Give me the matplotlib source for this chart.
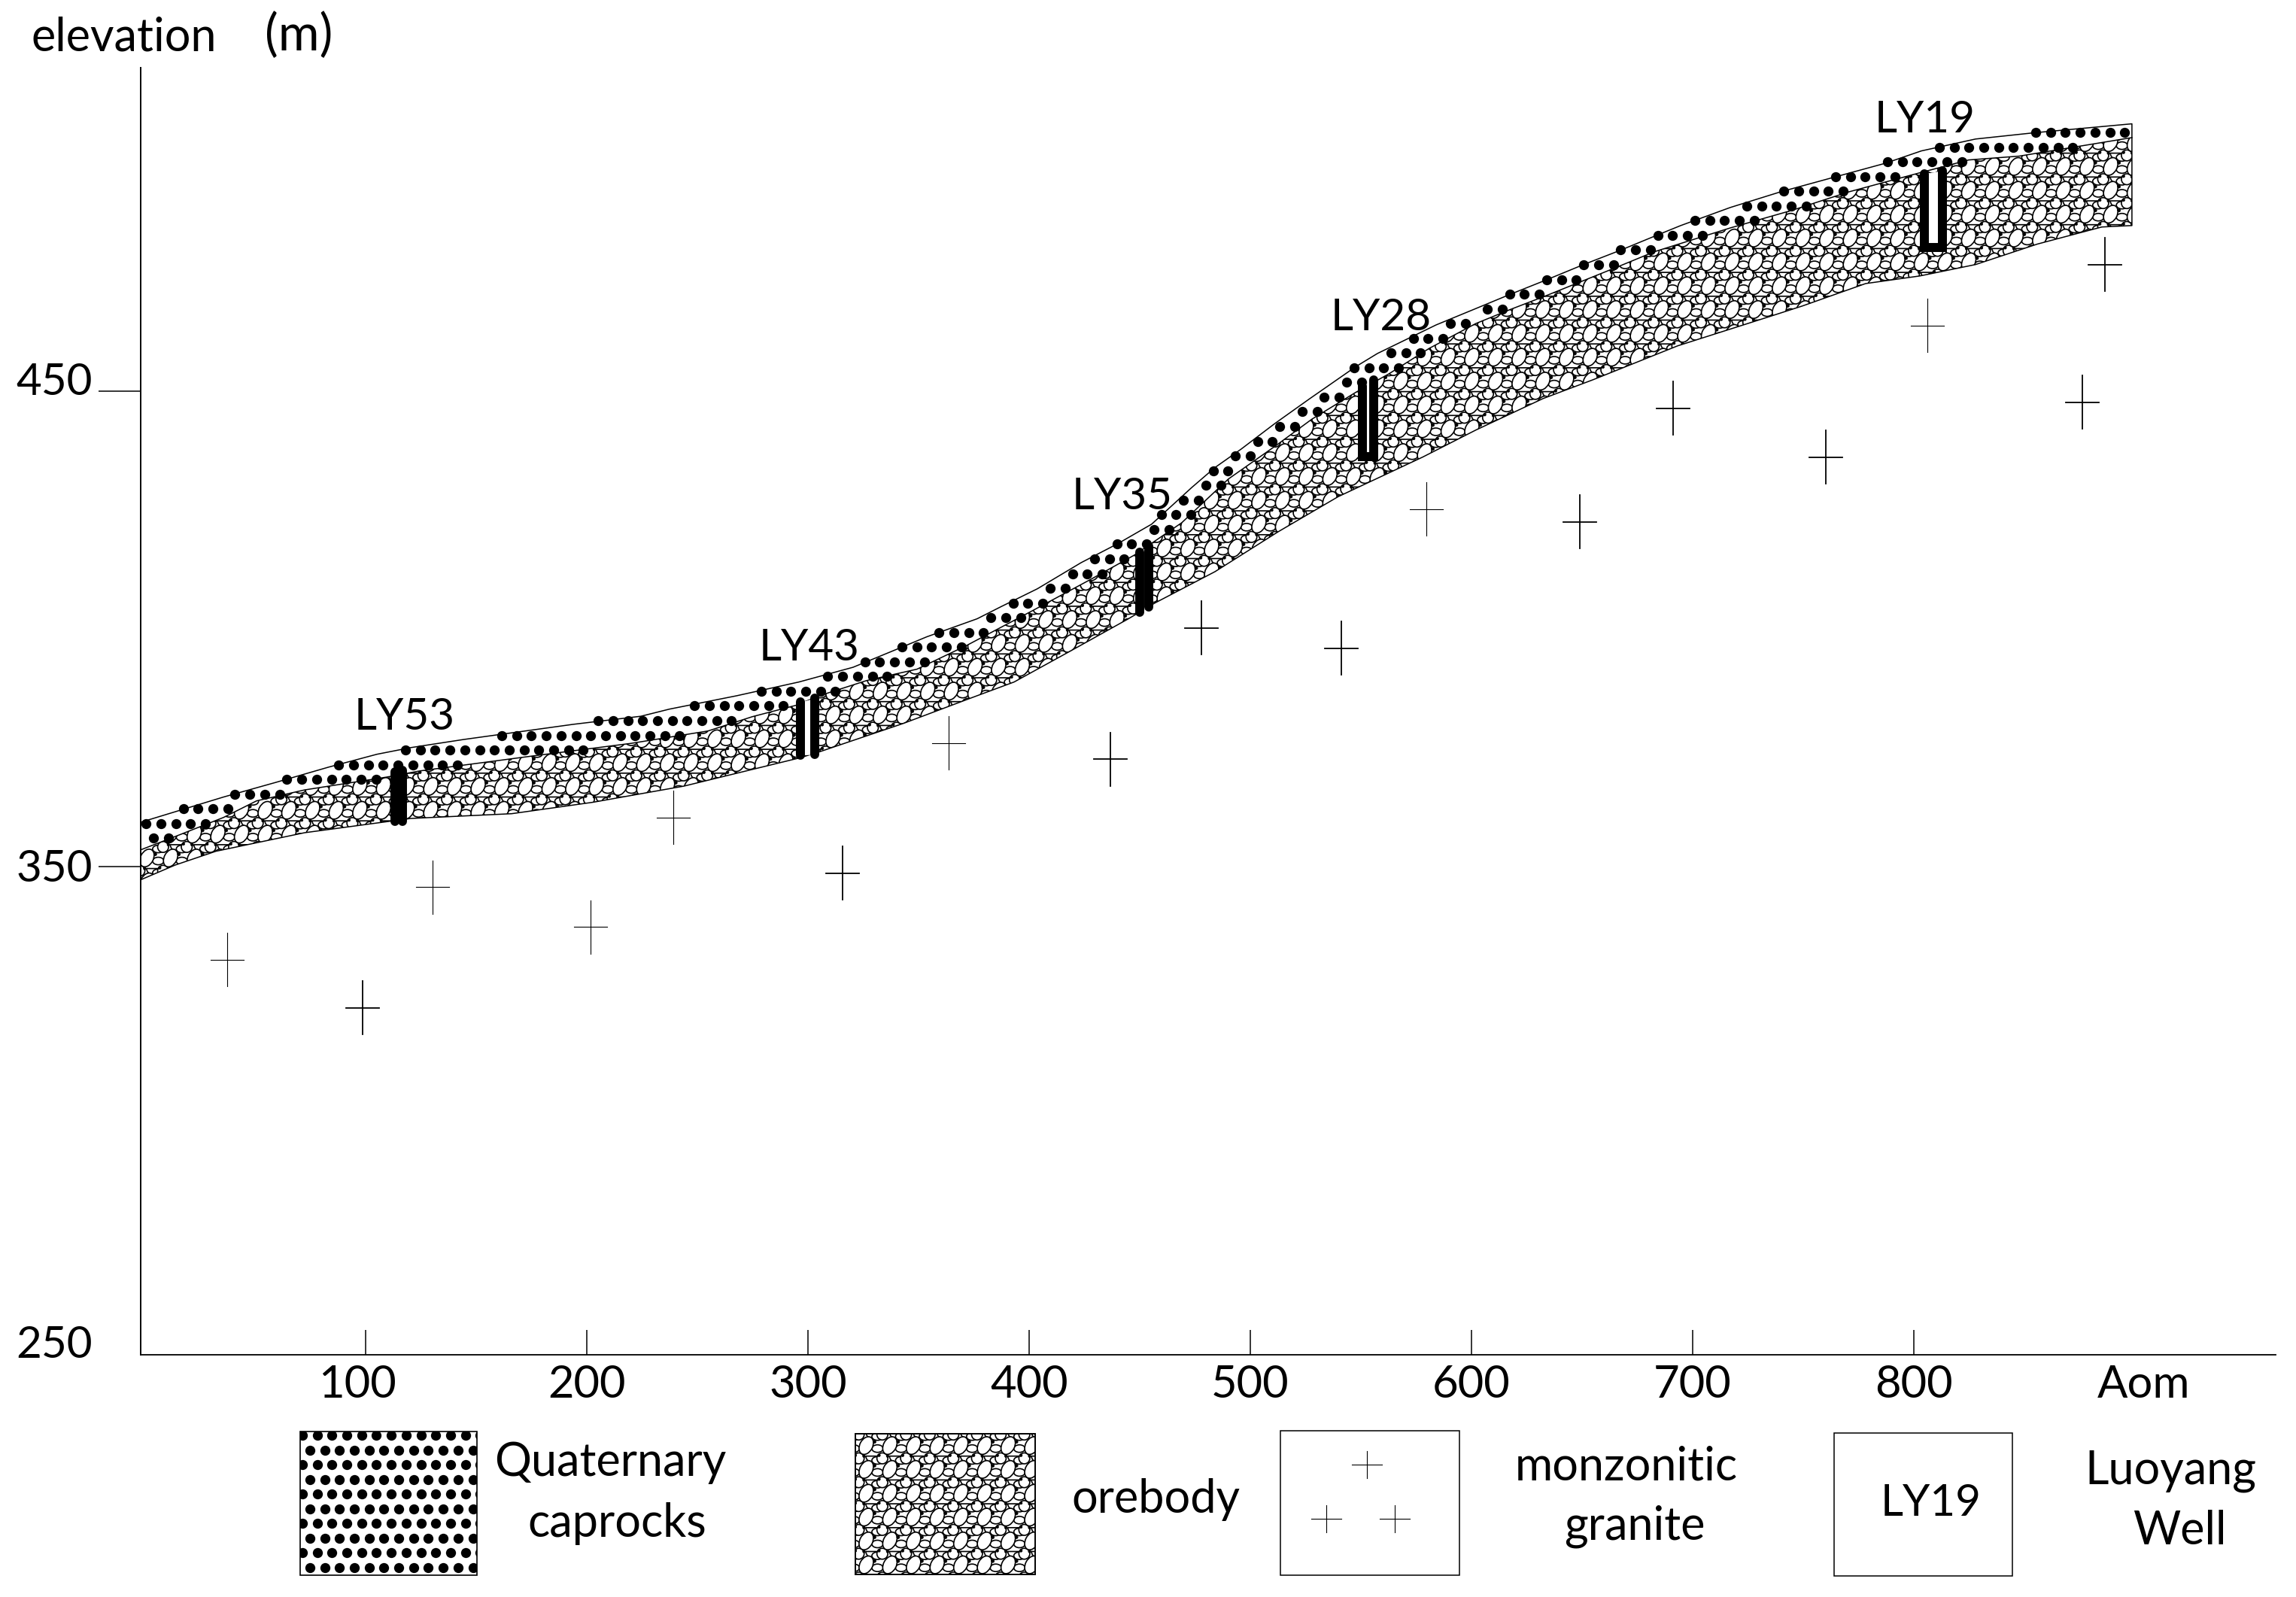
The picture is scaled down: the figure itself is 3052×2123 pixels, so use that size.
import numpy as np
import matplotlib
matplotlib.use('Agg')
import matplotlib.pyplot as plt
from matplotlib.collections import PatchCollection
from matplotlib.patches import Ellipse, Wedge, Rectangle
from matplotlib.path import Path
from matplotlib.transforms import Affine2D

plt.rcParams['font.family'] = ['Lato', 'DejaVu Sans']

# profile lines: distance (m) / elevation (m)
top_x = [-1.7, 35.7, 59.5, 83.3, 105.1, 120.4, 144.2, 193.9, 224.5, 237.4, 267.7, 295.9, 320.4, 337.1, 353.7,
         376.5, 387.1, 403.7, 423.5, 440.1, 455.4, 473.5, 484.0, 495.9, 511.2, 526.9, 547.6, 557.5, 584.0,
         600.7, 617.3, 634.0, 650.7, 667.3, 684.0, 694.6, 717.0, 739.8, 762.6, 787.1, 803.4, 827.9, 854.1, 898.6]
top_y = [359.3, 364.6, 367.7, 370.9, 373.6, 375.0, 376.7, 379.9, 381.6, 383.1, 385.9, 388.8, 391.9, 395.1, 398.3,
         402.1, 404.6, 408.4, 413.9, 417.9, 422.0, 429.7, 433.9, 437.8, 443.2, 448.4, 455.1, 457.9, 463.9,
         467.1, 470.3, 473.4, 476.6, 479.6, 482.8, 484.8, 488.6, 491.9, 494.8, 497.9, 500.5, 503.0, 504.3, 506.2]

cap_x = [-1.7, 13.9, 35.7, 50.7, 72.4, 109.5, 124.5, 176.5, 220.1, 254.8, 274.8, 294.6, 305.1, 326.5, 349.3,
         371.8, 400.7, 427.9, 447.6, 469.0, 490.1, 511.2, 527.9, 547.6, 562.6, 581.0, 602.0, 617.3, 634.0,
         666.0, 682.7, 717.0, 744.9, 770.7, 802.7, 824.8, 847.6, 898.6]
cap_y = [353.5, 356.3, 360.3, 363.8, 366.1, 368.8, 370.1, 373.3, 375.9, 378.5, 381.5, 383.9, 385.9, 389.1, 391.5,
         396.5, 403.6, 410.4, 415.5, 422.3, 431.5, 438.4, 444.1, 449.7, 453.6, 459.0, 464.2, 467.1, 470.1,
         476.1, 479.3, 484.3, 488.0, 491.9, 495.9, 498.6, 499.4, 503.3]

ore_x = [-1.7, 13.9, 32.3, 72.4, 120.4, 166.0, 202.7, 243.9, 267.7, 295.9, 305.1, 343.2, 373.5, 393.2, 419.0,
         444.9, 456.8, 484.0, 512.6, 539.8, 577.9, 602.0, 632.3, 655.1, 693.2, 733.7, 749.7, 778.2, 802.7,
         827.9, 855.8, 885.0, 898.6]
ore_y = [347.2, 350.3, 353.2, 357.1, 360.1, 361.1, 363.5, 366.9, 369.6, 372.8, 374.1, 380.1, 385.4, 388.8, 395.4,
         402.1, 405.4, 412.0, 420.4, 427.8, 436.1, 441.8, 448.4, 452.4, 459.5, 465.5, 467.9, 472.6, 474.2,
         476.6, 480.9, 484.5, 484.8]

# granite crosses
plus_x = [37.4, 98.6, 130.3, 201.7, 239.1, 315.6, 363.6, 436.7, 477.9, 541.2, 579.6, 649.0, 691.2, 760.2, 806.1, 876.2, 886.4]
plus_y = [330.4, 320.3, 345.7, 337.3, 360.3, 348.6, 376.0, 372.6, 400.2, 395.9, 425.2, 422.5, 446.4, 436.1, 463.8, 447.6, 476.6]
plus_thin = [0, 2, 3, 4, 6, 10, 14]

# wells
well_names = ['LY53', 'LY43', 'LY35', 'LY28', 'LY19']
well_label_x = [117.7, 300.7, 442.2, 559.2, 804.8]
well_label_y = [378.8, 393.4, 425.2, 462.8, 504.4]
well_left_x = [113.3, 296.6, 450.0, 550.7, 804.8]
well_right_x = [116.7, 302.9, 454.1, 555.8, 812.9]
well_left_top = [369.9, 384.6, 416.1, 451.1, 495.7]
well_right_top = [370.2, 385.4, 417.4, 452.4, 496.4]
well_left_bot = [359.5, 373.4, 403.5, 436.2, 480.2]
well_right_bot = [359.5, 373.6, 404.6, 436.2, 480.2]
well_closed = [False, False, False, True, True]

x_ticks = [100, 200, 300, 400, 500, 600, 700, 800, 904]
x_labels = ['100', '200', '300', '400', '500', '600', '700', '800', 'Aom']
y_ticks = [250, 350, 450]
y_labels = ['250', '350', '450']

FS = 42
FS_LEG = 44

fig = plt.figure(figsize=(30.52, 21.23), dpi=100, facecolor='white')

# layer in image pixels, for fill patterns, legend and loose text
ov = fig.add_axes([0, 0, 1, 1], zorder=0)
ov.set_xlim(0, 3052)
ov.set_ylim(2123, 0)
ov.axis('off')

ax = fig.add_axes([187/3052, (2123-1801)/2123, (3025-187)/3052, (1801-90)/2123], zorder=1)
ax.patch.set_visible(False)
ax.set_xlim(-1.7, 963.6)
ax.set_ylim(247.3, 518)


def to_pixels(xs, ys):
    disp = ax.transData.transform(np.column_stack([xs, ys]))
    return np.column_stack([disp[:, 0], 2123 - disp[:, 1]])


def closed_path(pts):
    return Path(np.vstack([pts, pts[:1]]))


# cobble pattern, one tile repeated
def cobble_patches(x0, x1, y0, y1, keep=None):
    shapes = []
    specks = []
    for gx in np.arange(x0, x1, 31.45):
        for gy in np.arange(y0, y1, 31.7):
            if keep is not None and not (keep.contains_point((gx, gy), radius=-32) or keep.contains_point((gx, gy), radius=32)):
                continue
            shapes.append(Wedge((gx+7, gy+14), 7.5, 0, 180))
            shapes.append(Ellipse((gx+15, gy-12), 15, 10))
            shapes.append(Ellipse((gx+15, gy+4), 15, 10))
            shapes.append(Ellipse((gx-10, gy+17), 14.5, 14.5))
            shapes.append(Ellipse((gx, gy), 25, 17, angle=-62))
            specks.append(Ellipse((gx+11, gy-5), 4, 4))
            specks.append(Ellipse((gx-3, gy+14), 3.5, 3.5))
            specks.append(Ellipse((gx+17, gy+13), 3.5, 3.5))
    return shapes, specks


def add_cobbles(parts, clip_path):
    shapes, specks = parts
    coll = PatchCollection(shapes, facecolor='white', edgecolor='black', linewidth=1.2, zorder=2)
    ov.add_collection(coll, autolim=False)
    coll.set_clip_path(clip_path, ov.transData)
    coll2 = PatchCollection(specks, facecolor='black', edgecolor='black', linewidth=0.5, zorder=2)
    ov.add_collection(coll2, autolim=False)
    coll2.set_clip_path(clip_path, ov.transData)


def dot_grid(x0, x1, y0, y1):
    pts = []
    for i, gy in enumerate(np.arange(y0, y1, 19.55)):
        for gx in np.arange(x0 + (i % 2)*9.85, x1, 19.7):
            pts.append((gx, gy))
    return np.array(pts)


# band outlines
cap_path = closed_path(to_pixels(top_x + cap_x[::-1], top_y + cap_y[::-1]))
ore_path = closed_path(to_pixels(cap_x + ore_x[::-1], cap_y + ore_y[::-1]))

# tile origin taken from the right end of the orebody
nx = int((2617 - 187) / 31.45) + 2
add_cobbles(cobble_patches(2617 - nx*31.45, 2870, 253 - 4*31.7, 1230, keep=ore_path), ore_path)

dots = dot_grid(2706 - 140*19.7, 2860, 176, 1160)
inside = cap_path.contains_points(dots, radius=2) | cap_path.contains_points(dots, radius=-2)
dots = dots[inside & (dots[:, 0] < 2830)]
ov.scatter(dots[:, 0], dots[:, 1], s=92, color='black', linewidths=0, zorder=3)

# profile lines
ax.plot(top_x + [top_x[-1]] + ore_x[::-1], top_y + [ore_y[-1]] + ore_y[::-1], color='black', lw=1.1, clip_on=False)
ax.plot(cap_x, cap_y, color='black', lw=1.1)

# crosses
half_w = 22 / 2.94
half_h = 35.5 / 6.32
for i in range(len(plus_x)):
    w = 0.8 if i in plus_thin else 1.3
    ax.plot([plus_x[i]-half_w, plus_x[i]+half_w], [plus_y[i], plus_y[i]], color='black', lw=w)
    ax.plot([plus_x[i], plus_x[i]], [plus_y[i]-half_h, plus_y[i]+half_h], color='black', lw=w)

# wells, white casing between the two walls
for i in range(len(well_names)):
    ax.fill_between([well_left_x[i], well_right_x[i]],
                    [well_left_bot[i], well_right_bot[i]],
                    [well_left_top[i], well_right_top[i]],
                    color='white', linewidth=0, zorder=3.5)
    ax.plot([well_left_x[i], well_left_x[i]], [well_left_bot[i], well_left_top[i]],
            color='black', lw=8.6, solid_capstyle='round', zorder=4)
    ax.plot([well_right_x[i], well_right_x[i]], [well_right_bot[i], well_right_top[i]],
            color='black', lw=8.6, solid_capstyle='round', zorder=4)
    if well_closed[i]:
        ax.plot([well_left_x[i], well_right_x[i]], [well_left_bot[i], well_right_bot[i]],
                color='black', lw=8.6, solid_capstyle='projecting', zorder=4)
    ax.text(well_label_x[i], well_label_y[i], well_names[i], fontsize=FS, ha='center', va='baseline', zorder=5)

# axes
ax.spines['top'].set_visible(False)
ax.spines['right'].set_visible(False)
ax.spines['left'].set_linewidth(1.4)
ax.spines['bottom'].set_linewidth(1.3)
ax.set_xticks(x_ticks)
ax.set_xticklabels(x_labels, fontsize=43)
ax.set_yticks(y_ticks)
ax.set_yticklabels(y_labels, fontsize=FS)
ax.tick_params(axis='x', direction='in', length=24, width=1.1, pad=9)
ax.tick_params(axis='y', direction='out', length=40, width=1.1, pad=6)
ax.xaxis.get_major_ticks()[-1].tick1line.set_visible(False)
ax.yaxis.get_major_ticks()[0].tick1line.set_visible(False)

# legend boxes
ov.add_patch(Rectangle((399, 1903), 235, 191, fc='none', ec='black', lw=1.2, zorder=5))
ov.add_patch(Rectangle((1137, 1906), 239, 187, fc='none', ec='black', lw=1.4, zorder=5))
ov.add_patch(Rectangle((1702, 1902), 238, 192, fc='none', ec='black', lw=1.1))
ov.add_patch(Rectangle((2438, 1905), 237, 190, fc='none', ec='black', lw=1.1))

legend_dots = dot_grid(402, 640, 1908, 2100)
keep = Path.unit_rectangle().transformed(Affine2D().scale(235, 191).translate(399, 1903))
sc = ov.scatter(legend_dots[:, 0], legend_dots[:, 1], s=92, color='black', linewidths=0, zorder=3)
sc.set_clip_path(keep, ov.transData)

keep2 = Path.unit_rectangle().transformed(Affine2D().scale(239, 187).translate(1137, 1906))
add_cobbles(cobble_patches(1120, 1400, 1890, 2120), keep2)

for cx, cy in [(1817, 1947), (1763, 2019), (1854, 2019)]:
    ov.plot([cx-20, cx+20], [cy, cy], color='black', lw=0.8)
    ov.plot([cx, cx], [cy-18, cy+18], color='black', lw=0.8)

# loose text
ov.text(42, 67, 'elevation', fontsize=44, ha='left', va='baseline')
ov.text(397, 67, '(m)', fontsize=48, ha='center', va='baseline')
ov.text(811, 1962, 'Quaternary', fontsize=FS_LEG, ha='center', va='baseline')
ov.text(820, 2043, 'caprocks', fontsize=FS_LEG, ha='center', va='baseline')
ov.text(1536, 2011, 'orebody', fontsize=FS_LEG, ha='center', va='baseline')
ov.text(2162, 1967, 'monzonitic', fontsize=FS_LEG, ha='center', va='baseline')
ov.text(2173, 2046, 'granite', fontsize=FS_LEG, ha='center', va='baseline')
ov.text(2567, 2015, 'LY19', fontsize=FS, ha='center', va='baseline')
ov.text(2885, 1973, 'Luoyang', fontsize=FS_LEG, ha='center', va='baseline')
ov.text(2897, 2053, 'Well', fontsize=FS_LEG, ha='center', va='baseline')

# tick labels sit off their ticks in the original
offsets = {'250': 0, '350': 1, '450': 16}
for lab in ax.get_yticklabels():
    lab.set_transform(lab.get_transform() + Affine2D().translate(0, offsets[lab.get_text()]))
first = ax.get_xticklabels()[0]
first.set_transform(first.get_transform() + Affine2D().translate(-11, 0))

fig.savefig('out.png', dpi=100, facecolor='white')
